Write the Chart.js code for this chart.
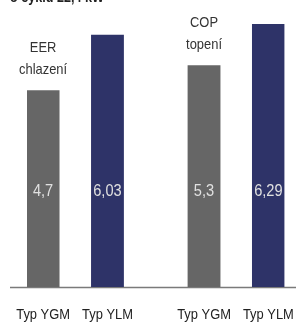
<!DOCTYPE html>
<html>
<head>
<meta charset="utf-8">
<script src="https://cdn.jsdelivr.net/npm/chart.js@4/dist/chart.umd.min.js"></script>
<style>
  html, body { margin: 0; padding: 0; background: #fff; }
  #wrap { width: 296px; height: 322px; position: relative; }
</style>
</head>
<body>
<div id="wrap"><canvas id="chart-eer-cop"></canvas></div>
<script>
// categories (empty slots are the gaps between the bars)
const categories = ['Typ YGM', '', 'Typ YLM', '', '', 'Typ YGM', '', 'Typ YLM'];
const values = [4.7, null, 6.03, null, null, 5.3, null, 6.29];
const valueLabels = ['4,7', '', '6,03', '', '', '5,3', '', '6,29'];
const barColors = ['#666666', '#666666', '#2e3368', '#666666', '#666666', '#666666', '#666666', '#2e3368'];
// group captions, drawn above the YGM bar of each group
const groupCaptions = [
    { index: 0, lines: ['EER', 'chlazení'] },
    { index: 5, lines: ['COP', 'topení'] }
];
const headerText = 'o cyklu 22,4 kW';

const sans = '"Liberation Sans", Arial, sans-serif';

// no narrow font installed, so squeeze the text horizontally
function narrowText(ctx, text, x, y, squeeze) {
    ctx.save();
    ctx.translate(x, y);
    ctx.scale(squeeze, 1);
    ctx.fillText(text, 0, 0);
    ctx.restore();
}

const decorPlugin = {
    id: 'decor',
    beforeDatasetsDraw(chart) {
        const { ctx, chartArea } = chart;
        ctx.save();
        ctx.strokeStyle = '#7a7a7a';
        ctx.lineWidth = 1.5;
        ctx.beginPath();
        ctx.moveTo(10, chartArea.bottom + 0.5);
        ctx.lineTo(chart.width, chartArea.bottom + 0.5);
        ctx.stroke();
        ctx.restore();
    },
    afterDatasetsDraw(chart) {
        const { ctx, chartArea } = chart;
        const xScale = chart.scales.x;
        const meta = chart.getDatasetMeta(0);
        ctx.save();
        ctx.textAlign = 'center';
        ctx.textBaseline = 'middle';

        // values inside the bars
        ctx.font = '17px ' + sans;
        ctx.fillStyle = '#e0e0e0';
        meta.data.forEach((bar, i) => {
            if (values[i] == null) return;
            narrowText(ctx, valueLabels[i], bar.x, chartArea.bottom - 96, 0.86);
        });

        // captions
        ctx.font = '15px ' + sans;
        ctx.fillStyle = '#333333';
        ctx.textBaseline = 'alphabetic';
        groupCaptions.forEach(c => {
            const bar = meta.data[c.index];
            const n = c.lines.length;
            c.lines.forEach((t, k) => {
                narrowText(ctx, t, bar.x, bar.y - 17 - (n - 1 - k) * 22, 0.86);
            });
        });

        // category labels under the axis
        ctx.fillStyle = '#222222';
        categories.forEach((lab, i) => {
            if (!lab) return;
            narrowText(ctx, lab, xScale.getPixelForValue(i), chartArea.bottom + 32, 0.86);
        });

        // header, cut off at the top edge
        ctx.font = 'bold 14px ' + sans;
        ctx.textAlign = 'left';
        ctx.fillStyle = '#222';
        narrowText(ctx, headerText, 10, 2, 0.9);
        ctx.restore();
    }
};

new Chart(document.getElementById('chart-eer-cop').getContext('2d'), {
    type: 'bar',
    data: {
        labels: categories,
        datasets: [{
            data: values,
            backgroundColor: barColors,
            borderWidth: 0,
            barPercentage: 1,
            categoryPercentage: 1
        }]
    },
    options: {
        responsive: true,
        maintainAspectRatio: false,
        animation: false,
        layout: { padding: { left: 27, right: 11.5, top: 0, bottom: 35 } },
        plugins: {
            legend: { display: false },
            tooltip: { enabled: false }
        },
        scales: {
            x: {
                display: false
            },
            y: {
                display: false,
                min: 0,
                max: 6.87
            }
        }
    },
    plugins: [decorPlugin]
});
</script>
</body>
</html>
